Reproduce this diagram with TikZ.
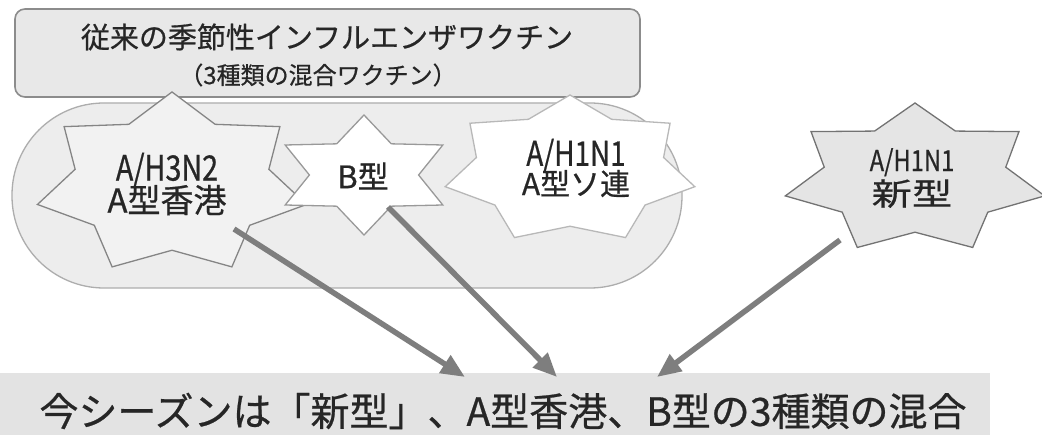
\documentclass[tikz,border=0pt]{standalone}
\usepackage{fontspec}
\setmainfont{Noto Sans CJK JP}[FakeBold=0.6]
\newfontfamily\latn{Noto Sans CJK JP}[FakeStretch=0.82,FakeBold=0.6]
\newfontfamily\widejp{Noto Sans CJK JP}[FakeStretch=1.3,FakeBold=0.6]
\usetikzlibrary{arrows.meta}
\definecolor{rectfill}{HTML}{E8E8E8}
\definecolor{ovalfill}{HTML}{EDEDED}
\definecolor{bandfill}{HTML}{E3E3E3}
\definecolor{arrowgray}{HTML}{7E7E7E}
\definecolor{textgray}{HTML}{262626}
\newcommand\fs[2]{\fontsize{#1}{#2}\selectfont}
\newcommand\drawstar[7][]{%
  \pgfmathtruncatemacro\starmax{2*#6-1}%
  \draw[#1] plot[samples at={0,...,\starmax}, variable=\k]
    ({#2+#4*(mod(\k,2)==0?1:#7)*cos(90+\k*180/#6)},
     {#3-#5*(mod(\k,2)==0?1:#7)*sin(90+\k*180/#6)}) -- cycle;}
\tikzset{
  lbl/.style={text=textgray, align=center, inner sep=0pt},
  flow/.style={draw=arrowgray, line width=5.5pt, -{Triangle[length=24pt,width=20pt]}},
  starline/.style={line width=1.3pt, line join=miter}
}
\begin{document}
\begin{tikzpicture}[x=1pt, y=-1pt]
\useasboundingbox (0,0) rectangle (1042,435);
\fill[white] (0,0) rectangle (1042,435);
% top box
\draw[fill=rectfill, draw=black!45, line width=1.6pt, rounded corners=10pt] (15,9) rectangle (640,97);
\node[lbl, font=\fs{29}{34}] (title) at (327,37) {従来の季節性インフルエンザワクチン};
\node[lbl, font=\fs{24}{28}] (subtitle) at (318,75) {（3種類の混合ワクチン）};
% oval group
\draw[fill=ovalfill, draw=black!32, line width=1.3pt, rounded corners=92pt] (12,103) rectangle (682,288);
% stars
\drawstar[starline, fill=black!5, draw=black!48]{172}{184}{138}{92}{7}{0.72}
\drawstar[starline, fill=white, draw=black!40]{364}{175}{91}{60}{6}{0.6}
\drawstar[starline, fill=white, draw=black!28]{570}{170}{128}{75}{7}{0.75}
\drawstar[starline, fill=black!10, draw=black!55]{915}{179}{133}{76}{7}{0.7}
% star labels
\node[lbl] (h3n2) at (167,184) {{\latn\fs{35}{34}A/H3N2}\\[-3pt]{\fs{33}{34}A型香港}};
\node[lbl, font=\fs{31}{34}] (btype) at (363,176) {B型};
\node[lbl] (soren) at (576,168) {{\latn\fs{34}{33}A/H1N1}\\[-3pt]{\fs{30}{33}A型ソ連}};
\node[lbl] (newtype) at (912,178) {{\latn\fs{29}{34}A/H1N1}\\[2pt]{\widejp\fs{31}{36}新型}};
% bottom band
\fill[bandfill] (0,373) rectangle (990,435);
\node[lbl, font=\fs{39}{42}] (result) at (503,411) {今シーズンは「新型」、A型香港、B型の3種類の混合};
% arrows
\coordinate (s1) at (234,229);
\coordinate (e1) at (465,377);
\coordinate (s2) at (388,207);
\coordinate (e2) at (557,377);
\coordinate (s3) at (840,240);
\coordinate (e3) at (657,377);
\draw[flow] (s1) -- (e1);
\draw[flow] (s2) -- (e2);
\draw[flow] (s3) -- (e3);
\end{tikzpicture}
\end{document}
